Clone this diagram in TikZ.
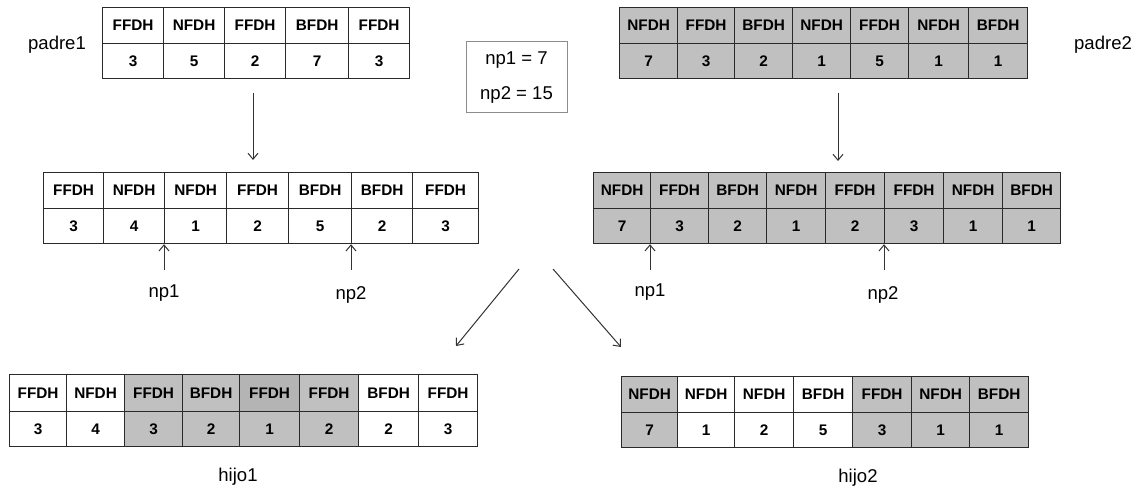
\documentclass[tikz,border=0pt]{standalone}
\usepackage{fontspec}
\setmainfont{Liberation Sans}
\usetikzlibrary{arrows.meta}
\definecolor{cgray}{HTML}{C0C0C0}
\definecolor{cdark}{HTML}{B4B4B4}
\definecolor{cline}{HTML}{2A2A2A}
\newcommand{\ptable}[5]{%
  \foreach \a/\b/\h/\v/\fh/\fv [count=\i] in {#5}{%
    \node[cellbox, fill=\fh, minimum width={(\b-\a)*0.75pt}, minimum height={(#3-#2)*0.75pt}] (#1h\i) at (\a,#2) {\h};
    \node[cellbox, fill=\fv, minimum width={(\b-\a)*0.75pt}, minimum height={(#4-#3)*0.75pt}] (#1v\i) at (\a,#3) {\v};
  }}
\begin{document}
\begin{tikzpicture}[x=0.75pt,y=-0.75pt,
  cellbox/.style={rectangle, draw=cline, line width=0.9pt, anchor=north west, inner sep=0pt,
     font=\bfseries\fontsize{11.5}{13}\selectfont},
  lbl/.style={font=\fontsize{13.9}{16}\selectfont, inner sep=1pt},
  arr/.style={draw=black!80, line width=0.75pt, -{Straight Barb[length=4.5pt,width=7.5pt]}}]
\useasboundingbox (0,0) rectangle (1137,491);

% padre1
\ptable{pa}{7}{43}{78}{102/163/FFDH/3/white/white, 163/224/NFDH/5/white/white, 224/285/FFDH/2/white/white, 285/348/BFDH/7/white/white, 348/409/FFDH/3/white/white}
% padre2
\ptable{pb}{7}{43}{78}{619/677/NFDH/7/cgray/cgray, 677/734/FFDH/3/cgray/cgray, 734/792/BFDH/2/cgray/cgray, 792/850/NFDH/1/cgray/cgray, 850/908/FFDH/5/cgray/cgray, 908/968/NFDH/1/cgray/cgray, 968/1027/BFDH/1/cgray/cgray}
% middle left
\ptable{ml}{172}{208}{243}{43/103/FFDH/3/white/white, 103/164/NFDH/4/white/white, 164/226/NFDH/1/white/white, 226/288/FFDH/2/white/white, 288/351/BFDH/5/white/white, 351/412/BFDH/2/white/white, 412/478/FFDH/3/white/white}
% middle right
\ptable{mr}{172}{208}{243}{593/650/NFDH/7/cgray/cgray, 650/708/FFDH/3/cgray/cgray, 708/766/BFDH/2/cgray/cgray, 766/825/NFDH/1/cgray/cgray, 825/884/FFDH/2/cgray/cgray, 884/943/FFDH/3/cgray/cgray, 943/1002/NFDH/1/cgray/cgray, 1002/1060/BFDH/1/cgray/cgray}
% hijo1
\ptable{ha}{374}{411}{446}{9/66/FFDH/3/white/white, 66/124/NFDH/4/white/white, 124/182/FFDH/3/cgray/cgray, 182/239/BFDH/2/cgray/cgray, 239/299/FFDH/1/cdark/cgray, 299/358/FFDH/2/cgray/cgray, 358/418/BFDH/2/white/white, 418/477/FFDH/3/white/white}
% hijo2
\ptable{hb}{376}{412}{447}{621/677/NFDH/7/cgray/cgray, 677/734/NFDH/1/white/white, 734/793/NFDH/2/white/white, 793/852/BFDH/5/white/white, 852/911/FFDH/3/cgray/cgray, 911/969/NFDH/1/cgray/cgray, 969/1028/BFDH/1/cgray/cgray}

% labels
\node[lbl] (lp1) at (57,45) {padre1};
\node[lbl] (lp2) at (1103,45) {padre2};
\node[lbl] (lh1) at (238,477) {hijo1};
\node[lbl] (lh2) at (858,478) {hijo2};
\node[draw=black!45, line width=0.75pt, minimum width=101*0.75pt, minimum height=71*0.75pt,
      align=center, font=\fontsize{13.9}{26.25}\selectfont] (npbox) at (516.5,77.5) {np1 = 7\\np2 = 15};

% np pointers
\node[lbl] (mlnp1) at (164,293) {np1};
\node[lbl] (mlnp2) at (351,295) {np2};
\node[lbl] (mrnp1) at (650,292) {np1};
\node[lbl] (mrnp2) at (883,295) {np2};
\coordinate (t1) at (164,270);
\coordinate (t2) at (351,270);
\coordinate (t3) at (650,270);
\coordinate (t4) at (884,270);
\draw[arr] (t1) -- (mlv3.south west);
\draw[arr] (t2) -- (mlv6.south west);
\draw[arr] (t3) -- (mrv2.south west);
\draw[arr] (t4) -- (mrv6.south west);

% vertical arrows
\coordinate (s1) at (253,93);
\coordinate (e1) at (253,160);
\coordinate (s2) at (838,93);
\coordinate (e2) at (838,161);
\draw[arr] (s1) -- (e1);
\draw[arr] (s2) -- (e2);

% diagonal arrows
\coordinate (d1s) at (519,269);
\coordinate (d1e) at (456,346);
\coordinate (d2s) at (553,269);
\coordinate (d2e) at (621,347);
\draw[arr] (d1s) -- (d1e);
\draw[arr] (d2s) -- (d2e);
\end{tikzpicture}
\end{document}
